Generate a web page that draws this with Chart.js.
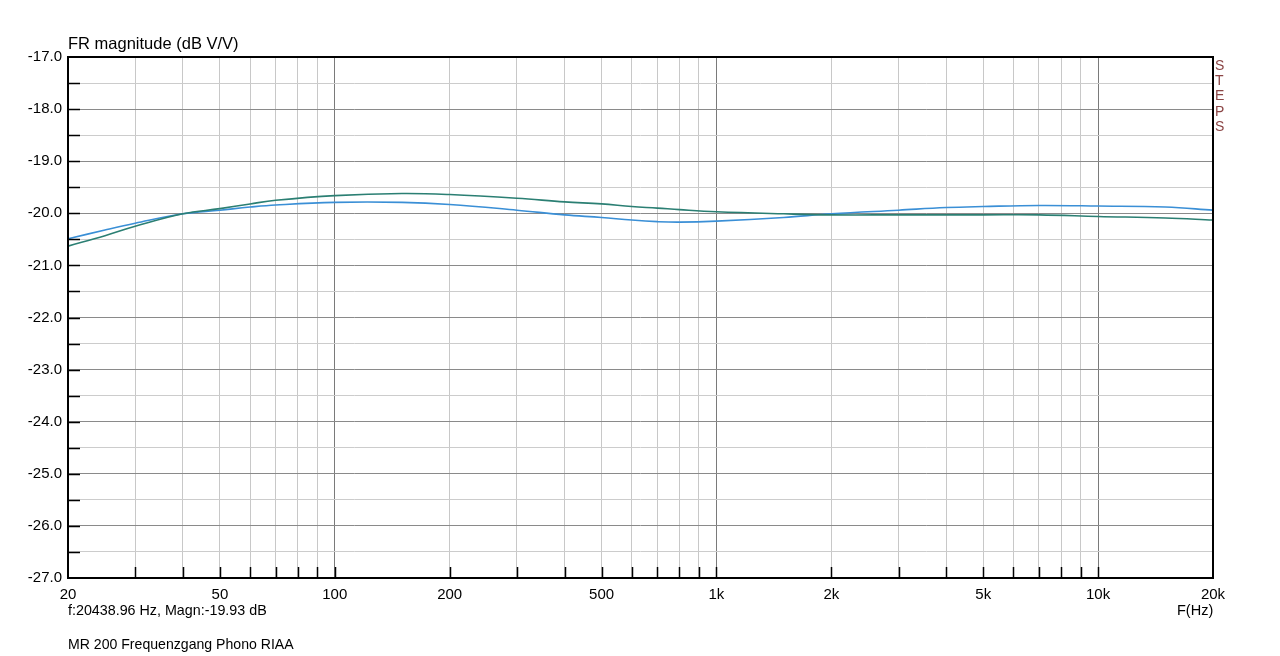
<!DOCTYPE html>
<html>
<head>
<meta charset="utf-8">
<script src="https://cdn.jsdelivr.net/npm/chart.js@4/dist/chart.umd.min.js"></script>
<style>
	body { margin: 0; background: #fff; font-family: "Liberation Sans", Arial, sans-serif; }
	#wrap { position: relative; width: 1280px; height: 656px; }
	#frChart { position: absolute; left: 0; top: 0; }
	.txt { position: absolute; font-size: 14px; color: #000; white-space: nowrap; }
</style>
</head>
<body>
<div id="wrap">
	<canvas id="frChart" width="1280" height="656"></canvas>
	<div class="txt" style="left:68px; top:34px; font-size:16.5px;">FR magnitude (dB V/V)</div>
	<div class="txt" style="left:1215px; top:58px; font-size:14px; line-height:15.2px; color:#8b4545; width:12px; white-space:normal; word-break:break-all;">STEPS</div>
	<div class="txt" style="left:1177px; top:602px; font-size:14.5px;">F(Hz)</div>
	<div class="txt" style="left:68px; top:602px; font-size:14.3px;">f:20438.96 Hz, Magn:-19.93 dB</div>
	<div class="txt" style="left:68px; top:636px; font-size:14.1px;">MR 200 Frequenzgang Phono RIAA</div>
</div>
<script>
// 측정 주파수 (Hz)
const freqs = [20, 25, 30, 40, 50, 60, 70, 100, 150, 200, 300, 400, 500, 600, 700, 800, 1000, 1500, 2000, 3000, 4000, 5000, 7000, 10000, 15000, 20000];
// 채널별 크기 (dB)
const greenDb = [-20.63, -20.43, -20.25, -20.01, -19.91, -19.82, -19.75, -19.66, -19.62, -19.64, -19.71, -19.78, -19.82, -19.87, -19.90, -19.93, -19.97, -20.01, -20.03, -20.03, -20.03, -20.03, -20.03, -20.06, -20.09, -20.13];
const blueDb = [-20.49, -20.32, -20.19, -20.01, -19.94, -19.88, -19.84, -19.79, -19.79, -19.83, -19.94, -20.03, -20.08, -20.13, -20.16, -20.17, -20.15, -20.08, -20.01, -19.94, -19.89, -19.87, -19.85, -19.86, -19.88, -19.94];

// 축 눈금
const xTicks = [20, 30, 40, 50, 60, 70, 80, 90, 100, 200, 300, 400, 500, 600, 700, 800, 900, 1000, 2000, 3000, 4000, 5000, 6000, 7000, 8000, 9000, 10000, 20000];
const xTickLabels = { 20: '20', 50: '50', 100: '100', 200: '200', 500: '500', 1000: '1k', 2000: '2k', 5000: '5k', 10000: '10k', 20000: '20k' };
const yMin = -27, yMax = -17, yStep = 0.5;

Chart.defaults.font.family = '"Liberation Sans", Arial, sans-serif';
Chart.defaults.font.size = 15;
Chart.defaults.color = '#000';

// 안쪽 눈금선 + 테두리
const frameTicks = {
	id: 'frameTicks',
	afterDraw(chart) {
		const { ctx, chartArea: a, scales } = chart;
		ctx.save();
		ctx.strokeStyle = '#000';
		ctx.lineWidth = 1.5;
		ctx.beginPath();
		for (let v = yMin + yStep; v < yMax; v += yStep) {
			const y = Math.round(scales.y.getPixelForValue(v)) + 0.5;
			ctx.moveTo(a.left, y);
			ctx.lineTo(a.left + 12, y);
		}
		xTicks.forEach(v => {
			if (v === 20 || v === 20000) return;
			const x = Math.round(scales.x.getPixelForValue(v)) + 0.5;
			ctx.moveTo(x, a.bottom);
			ctx.lineTo(x, a.bottom - 11);
		});
		ctx.stroke();
		ctx.lineWidth = 2;
		ctx.strokeRect(a.left, a.top, a.right - a.left, a.bottom - a.top);
		ctx.restore();
	}
};

new Chart(document.getElementById('frChart'), {
	type: 'line',
	data: {
		datasets: [
			{
				label: 'L',
				data: freqs.map((f, i) => ({ x: f, y: greenDb[i] })),
				borderColor: '#2b7f73',
				borderWidth: 1.6,
				pointRadius: 0,
				tension: 0.4
			},
			{
				label: 'R',
				data: freqs.map((f, i) => ({ x: f, y: blueDb[i] })),
				borderColor: '#3a8fd6',
				borderWidth: 1.6,
				pointRadius: 0,
				tension: 0.4
			}
		]
	},
	options: {
		responsive: false,
		devicePixelRatio: 1,
		animation: false,
		layout: { padding: { left: 0, top: 57, right: 67, bottom: 0 } },
		plugins: { legend: { display: false }, tooltip: { enabled: false } },
		scales: {
			x: {
				type: 'logarithmic',
				min: 20,
				max: 20000,
				afterBuildTicks: scale => { scale.ticks = xTicks.map(v => ({ value: v })); },
				afterFit: scale => { scale.height = 78; },
				ticks: {
					autoSkip: false,
					maxRotation: 0,
					padding: 8,
					callback: v => xTickLabels[v] || ''
				},
				grid: {
					drawTicks: false,
					color: c => ([100, 1000, 10000].includes(c.tick && c.tick.value) ? '#7a7a7a' : '#c8c8c8'),
					lineWidth: 1
				},
				border: { display: false }
			},
			y: {
				min: yMin,
				max: yMax,
				afterFit: scale => { scale.width = 68; },
				ticks: {
					stepSize: yStep,
					padding: 6,
					callback: v => (Number.isInteger(v) ? v.toFixed(1) : '')
				},
				grid: {
					drawTicks: false,
					color: c => (Number.isInteger(c.tick && c.tick.value) ? '#8a8a8a' : '#cccccc'),
					lineWidth: 1
				},
				border: { display: false }
			}
		}
	},
	plugins: [frameTicks]
});
</script>
</body>
</html>
